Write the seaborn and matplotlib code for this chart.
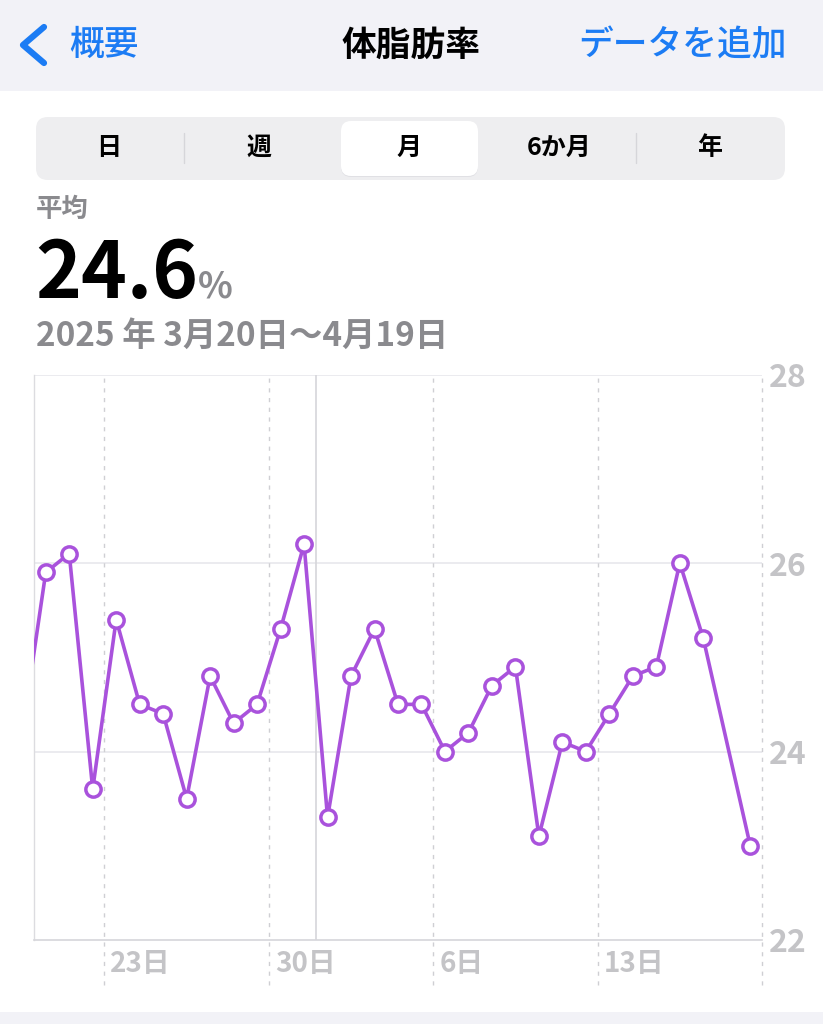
import pandas as pd
import numpy as np
import matplotlib
matplotlib.use("Agg")
import matplotlib.pyplot as plt
import matplotlib.transforms as mtransforms
from matplotlib.patches import FancyBboxPatch, Rectangle
import seaborn as sns

# Data: daily body fat % (Mar 19 point only feeds the clipped line at the left edge)
dates = ["2025-03-19", "2025-03-20", "2025-03-21", "2025-03-22", "2025-03-23",
         "2025-03-24", "2025-03-25", "2025-03-26", "2025-03-27", "2025-03-28",
         "2025-03-29", "2025-03-30", "2025-03-31", "2025-04-01", "2025-04-02",
         "2025-04-03", "2025-04-04", "2025-04-05", "2025-04-06", "2025-04-07",
         "2025-04-08", "2025-04-09", "2025-04-10", "2025-04-11", "2025-04-12",
         "2025-04-13", "2025-04-14", "2025-04-15", "2025-04-16", "2025-04-17",
         "2025-04-19"]
body_fat = [24.2, 25.9, 26.1, 23.6, 25.4,
            24.5, 24.4, 23.5, 24.8, 24.3,
            24.5, 25.3, 26.2, 23.3, 24.8,
            25.3, 24.5, 24.5, 24.0, 24.2,
            24.7, 24.9, 23.1, 24.1, 24.0,
            24.4, 24.8, 24.9, 26.0, 25.2,
            23.0]
x_tick_days = [3, 10, 17, 24]
x_tick_labels = ["23日", "30日", "6日", "13日"]
y_ticks = [22, 24, 26, 28]
segments = ["日", "週", "月", "6か月", "年"]
average_text = "24.6"
range_text = "2025 年 3月20日～4月19日"

start = pd.Timestamp("2025-03-20")
df = pd.DataFrame({"date": pd.to_datetime(dates), "value": body_fat})
df["day"] = (df["date"] - start).dt.days + 0.5

sns.set_theme(style="white")
plt.rcParams['font.family'] = ['Noto Sans CJK JP', 'DejaVu Sans']

PURPLE = "#A952DC"
BLUE = "#1C7CF4"
GRAY_TEXT = "#8A8A8E"
TICK_GRAY = "#C4C4C7"
GRID = "#E8E8EC"

W, H = 823, 1024
fig = plt.figure(figsize=(W / 100, H / 100), dpi=100)
fig.patch.set_facecolor("white")

# Background axes in pixel coordinates for the UI chrome
bg = fig.add_axes([0, 0, 1, 1])
bg.set_xlim(0, W)
bg.set_ylim(H, 0)
bg.axis("off")

# Navigation bar
bg.add_patch(Rectangle((0, 0), W, 91, color="#F2F2F7", lw=0))
bg.plot([44, 23, 44], [27, 45, 63], color=BLUE, lw=4.5, solid_capstyle="round",
        solid_joinstyle="round")
bg.text(69, 45, "概要", color=BLUE, fontsize=25, fontweight="medium",
        va="center", ha="left")
bg.text(411, 45, "体脂肪率", color="black", fontsize=25, fontweight="bold",
        va="center", ha="center")
bg.text(787, 45, "データを追加", color=BLUE, fontsize=25, fontweight="medium",
        va="center", ha="right")

# Segmented control
bg.add_patch(FancyBboxPatch((48, 129), 737 - 12, 51 - 12,
                            boxstyle="round,pad=12", fc="#EEEEF0", ec="none"))
bg.add_patch(FancyBboxPatch((351, 132), 117, 35,
                            boxstyle="round,pad=10", fc="#E0E0E4", ec="none"))
bg.add_patch(FancyBboxPatch((351, 131), 117, 35,
                            boxstyle="round,pad=10", fc="white", ec="none"))
seg_x = [109, 259, 409, 559, 710]
for sx, lab in zip(seg_x, segments):
    bg.text(sx, 148, lab, fontsize=18, fontweight="bold", color="black",
            ha="center", va="center")
for sep in [184, 636]:
    bg.plot([sep, sep], [133, 163], color="#D6D6DA", lw=1)

# Summary
bg.text(36, 209, "平均", fontsize=19, fontweight="bold", color=GRAY_TEXT,
        ha="left", va="center")
bg.text(35, 298, average_text, fontsize=56, fontweight="bold", color="black",
        ha="left", va="baseline")
bg.text(198, 298, "%", fontsize=26, fontweight="bold", color=GRAY_TEXT,
        ha="left", va="baseline")
bg.text(36, 336, range_text, fontsize=24, fontweight="bold", color=GRAY_TEXT,
        ha="left", va="center")

# Bottom strip
bg.add_patch(Rectangle((0, 1012), W, 12, color="#F2F2F7", lw=0))

# Chart axes
left, right, top, bottom = 34, 762, 374.5, 940
ax = fig.add_axes([left / W, 1 - bottom / H, (right - left) / W, (bottom - top) / H])
ax.patch.set_alpha(0)

sns.lineplot(data=df, x="day", y="value", ax=ax, color=PURPLE, linewidth=2.6,
             marker="o", markersize=11, markerfacecolor="white",
             markeredgecolor=PURPLE, markeredgewidth=2.5, zorder=5)

ax.set_xlim(0, 31)
ax.set_ylim(22, 28)
ax.set_xlabel("")
ax.set_ylabel("")

# horizontal grid
for yv in y_ticks[1:]:
    ax.axhline(yv, color=GRID, lw=1.2, zorder=1)

# dotted week lines, extended below the axis
ext = -(985 - bottom) / (bottom - top)
for d in x_tick_days + [31]:
    ax.axvline(d, ymin=ext, ymax=1, color="#CFCFD3", lw=1, ls=(0, (3, 4)),
               clip_on=False, zorder=1)
# month boundary (Apr 1)
ax.axvline(12, color="#D6D6DA", lw=1.2, zorder=1)

for s in ["top", "right"]:
    ax.spines[s].set_visible(False)
ax.spines["left"].set_color("#DCDCE0")
ax.spines["left"].set_linewidth(1)
ax.spines["bottom"].set_color("#D6D6DA")
ax.spines["bottom"].set_linewidth(1.2)

ax.set_xticks(x_tick_days, labels=x_tick_labels)
ax.tick_params(axis="x", length=0, pad=7, labelsize=20, labelcolor=TICK_GRAY)
offset = mtransforms.ScaledTranslation(6 / 100, 0, fig.dpi_scale_trans)
for lab in ax.get_xticklabels():
    lab.set_ha("left")
    lab.set_fontweight("bold")
    lab.set_transform(lab.get_transform() + offset)

ax.yaxis.tick_right()
ax.set_yticks(y_ticks, labels=[str(v) for v in y_ticks])
ax.tick_params(axis="y", length=0, pad=5, labelsize=23, labelcolor=TICK_GRAY)
for lab in ax.get_yticklabels():
    lab.set_fontweight("bold")

fig.savefig("out.png", dpi=100)
